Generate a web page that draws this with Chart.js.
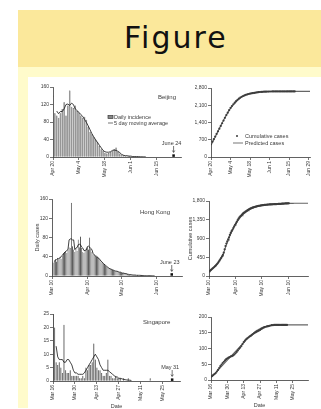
<!DOCTYPE html>
<html>
<head>
<meta charset="utf-8">
<script src="https://cdn.jsdelivr.net/npm/chart.js@4.4.0/dist/chart.umd.min.js"></script>
<style>
html, body { margin: 0; padding: 0; width: 321px; height: 409px; overflow: hidden; background: #fff; }
#hdr { position: absolute; left: 18px; top: 10px; width: 320px; height: 57px; background: #fbe89b; }
#hdr span { position: absolute; left: 106px; top: 13px; font: 30px/30px "DejaVu Sans", sans-serif; letter-spacing: 2px; color: #111; }
#box { position: absolute; left: 18px; top: 67px; width: 320px; height: 341px; background: #fffbcb; }
#fig { position: absolute; left: 28px; top: 77px; width: 300px; height: 340px; background: #fff; }
canvas { position: absolute; filter: blur(0.35px); }
</style>
</head>
<body>
<div id="hdr"><span>Figure</span></div>
<div id="box"></div>
<div id="fig"></div>
<script>
// Beijing, day 0 = Apr 20
const bjTicks = [0, 14, 28, 42, 56, 70];
const bjTickText = ['Apr 20', 'May 4', 'May 18', 'Jun 1', 'Jun 15', 'Jun 29'];
const bjDaily = [140, 100, 95, 90, 100, 110, 125, 95, 118, 152,
  115, 112, 118, 105, 102, 95, 90, 92, 85, 70,
  58, 52, 45, 40, 35, 25, 18, 15, 10, 8,
  9, 12, 14, 18, 22, 12, 8, 5, 4, 3,
  2, 3, 1, 1, 2, 1, 0, 1, 0, 0,
  1, 0, 0, 0, 0, 0, 0, 0, 0, 0];
const bjAvg = [null, null, 105, 99, 104, 104, 110, 120, 121, 118,
  123, 120, 110, 106, 102, 97, 93, 86, 79, 71,
  62, 53, 46, 39, 33, 27, 21, 15, 12, 11,
  11, 12, 15, 16, 15, 13, 10, 6, 4, 3,
  3, 2, 2, 1, 1, 1, 1, 0.5, 0.5, 0.3, 0.2];
const bjCum = [513, 620, 725, 830, 935, 1040, 1150, 1260, 1370, 1480,
  1590, 1700, 1800, 1900, 1990, 2070, 2140, 2205, 2265, 2320,
  2370, 2410, 2445, 2475, 2500, 2522, 2540, 2556, 2570, 2582,
  2592, 2602, 2612, 2622, 2630, 2637, 2642, 2646, 2649, 2652,
  2654, 2656, 2657, 2658, 2659, 2660, 2660, 2661, 2661, 2661,
  2662, 2662, 2662, 2662, 2662, 2662, 2663, 2663, 2663, 2663, 2663];
const bjPred = [480, 590, 700, 810, 925, 1040, 1155, 1270, 1385, 1495,
  1600, 1700, 1795, 1885, 1970, 2045, 2115, 2180, 2240, 2295,
  2345, 2390, 2430, 2465, 2495, 2520, 2542, 2560, 2576, 2590,
  2602, 2612, 2620, 2627, 2633, 2638, 2642, 2646, 2649, 2651,
  2653, 2655, 2656, 2657, 2658, 2659, 2659, 2660, 2660, 2660,
  2661, 2661, 2661, 2661, 2661, 2662, 2662, 2662, 2662, 2662,
  2662, 2662, 2662, 2662, 2662, 2662, 2662, 2662, 2662, 2662, 2662, 2662];

// Hong Kong, day 0 = Mar 10
const hkTicks = [0, 31, 61, 92];
const hkTickText = ['Mar 10', 'Apr 10', 'May 10', 'Jun 10'];
const hkDaily = [30, 28, 32, 35, 30, 38, 35, 40, 36, 42,
  48, 50, 52, 48, 55, 60, 58, 152, 62, 55,
  50, 56, 52, 76, 60, 82, 58, 50, 48, 52,
  57, 60, 55, 80, 56, 50, 45, 44, 42, 40,
  40, 38, 35, 30, 28, 26, 25, 22, 20, 18,
  16, 15, 14, 13, 12, 11, 10, 10, 9, 8,
  8, 7, 6, 6, 5, 5, 4, 3, 3, 3,
  2, 2, 2, 2, 1, 2, 1, 1, 2, 1,
  1, 0, 1, 1, 0, 1, 0, 1, 0, 1];
const hkAvg = [null, null, 31, 33, 34, 36, 36, 38, 40, 43,
  46, 48, 51, 53, 55, 75, 77, 77, 75, 75,
  55, 58, 59, 65, 66, 65, 60, 58, 53, 53,
  54, 61, 62, 60, 57, 55, 47, 44, 42, 41,
  39, 37, 34, 31, 29, 26, 24, 22, 20, 18,
  16, 15, 14, 13, 12, 11, 10, 10, 9, 8,
  8, 7, 6, 6, 5, 5, 4, 3.5, 3, 3,
  2.5, 2, 2, 2, 1.5, 1.5, 1.4, 1.4, 1.2, 1,
  1, 0.8, 0.8, 0.6, 0.6, 0.6, 0.5, 0.5, 0.4, 0.3, 0.2];
const hkCum = [104, 120, 140, 160, 178, 196, 216, 236, 258, 280,
  304, 335, 368, 400, 435, 470, 505, 560, 640, 720,
  780, 830, 880, 930, 985, 1035, 1075, 1110, 1150, 1190,
  1230, 1265, 1300, 1340, 1375, 1405, 1430, 1452, 1475, 1495,
  1515, 1530, 1545, 1560, 1575, 1588, 1600, 1612, 1622, 1632,
  1640, 1648, 1655, 1662, 1668, 1673, 1678, 1682, 1686, 1690,
  1694, 1697, 1700, 1703, 1706, 1708, 1710, 1712, 1714, 1716,
  1718, 1719, 1720, 1721, 1722, 1723, 1724, 1725, 1726, 1728,
  1729, 1730, 1731, 1733, 1735, 1737, 1738, 1740, 1741, 1742,
  1743, 1744, 1745];
const hkPred = [100, 118, 138, 158, 178, 198, 218, 240, 262, 285,
  310, 338, 368, 400, 434, 470, 510, 560, 625, 690,
  750, 805, 858, 910, 960, 1008, 1054, 1098, 1140, 1180,
  1218, 1254, 1288, 1320, 1350, 1378, 1404, 1428, 1450, 1470,
  1489, 1507, 1524, 1540, 1555, 1569, 1582, 1594, 1605, 1615,
  1625, 1634, 1643, 1651, 1658, 1665, 1671, 1677, 1682, 1687,
  1691, 1695, 1699, 1702, 1705, 1708, 1711, 1713, 1715, 1717,
  1719, 1721, 1722, 1724, 1725, 1726, 1727, 1728, 1729, 1730,
  1731, 1732, 1733, 1734, 1735, 1736, 1737, 1738, 1739, 1740,
  1741, 1741, 1742, 1742, 1743, 1743, 1744, 1744, 1745, 1745,
  1745, 1745, 1745, 1745, 1745, 1745, 1745, 1745, 1745, 1745,
  1745, 1745, 1745, 1745, 1745];

// Singapore, day 0 = Mar 16
const sgTicks = [0, 14, 28, 42, 56, 70];
const sgTickText = ['Mar 16', 'Mar 30', 'Apr 13', 'Apr 27', 'May 11', 'May 25'];
const sgDaily = [25, 20, 7, 6, 7, 5, 3, 21, 4, 3,
  3, 4, 2, 2, 2, 2, 2, 1, 1, 2,
  1, 5, 4, 6, 6, 7, 14, 8, 5, 4,
  4, 3, 2, 2, 3, 8, 2, 2, 1, 1,
  2, 1, 1, 1, 0, 1, 0, 0, 1, 0,
  0, 0, 0, 0, 0, 0, 0, 0, 0, 0, 0, 0, 1];
const sgAvg = [null, null, 13, 9, 8, 8, 8, 7, 7, 8,
  8, 7, 6, 4, 3, 3, 2.5, 2.5, 2.5, 2.5,
  3, 4, 5, 6, 7, 8, 9, 10, 9, 8,
  6, 5, 4, 4, 4, 4, 3.5, 3, 2.5, 2,
  1.5, 1.5, 1, 1, 0.8, 0.6, 0.5, 0.4, 0.3, 0.3, 0.2];
const sgCum = [10, 13, 16, 19, 22, 27, 32, 38, 44, 49,
  54, 58, 62, 66, 69, 71, 73, 75, 76, 78,
  81, 85, 89, 94, 99, 103, 108, 114, 120, 125,
  129, 132, 135, 138, 140, 143, 146, 149, 151, 153,
  155, 157, 159, 162, 164, 166, 168, 169, 170, 171,
  172, 173, 174, 174, 175, 175, 175, 175, 175, 175,
  175, 175, 175, 175, 175, 175];
const sgPred = [8, 11, 15, 19, 23, 27, 31, 35, 39, 43,
  47, 51, 55, 59, 63, 67, 71, 75, 79, 83,
  87, 91, 95, 99, 103, 107, 111, 115, 119, 123,
  127, 131, 135, 139, 142, 145, 148, 151, 154, 157,
  159, 161, 163, 165, 167, 168, 169, 170, 171, 172,
  173, 173, 174, 174, 174, 175, 175, 175, 175, 175,
  175, 175, 175, 175, 175, 175, 175, 175, 175, 175,
  175, 175, 175, 175, 175, 175, 175, 175, 175, 175, 175, 175, 175, 175];

const FONT = '"Liberation Sans", Arial, sans-serif';
const INK = '#3a3a3a';
const PAD_T = 5, PAD_R = 6;

const pts = arr => arr.map((v, i) => ({ x: i, y: v }));

const extraText = {
  id: 'extraText',
  afterDatasetsDraw(chart, args, o) {
    const { ctx, chartArea: a, scales } = chart;
    ctx.save();
    ctx.fillStyle = INK;
    ctx.strokeStyle = INK;
    ctx.lineWidth = 0.7;
    ctx.textBaseline = 'middle';
    ctx.textAlign = 'left';
    if (o.name) {
      ctx.font = '6px ' + FONT;
      ctx.fillText(o.name, a.left + o.nameAt[0], a.top + o.nameAt[1]);
    }
    ctx.font = '5.5px ' + FONT;
    (o.legend || []).forEach(it => {
      const x = a.left + it.sx, y = a.top + it.dy;
      if (it.kind === 'bar') {
        ctx.fillStyle = '#888';
        ctx.fillRect(x, y - 1.5, 5, 3);
        ctx.strokeRect(x, y - 1.5, 5, 3);
        ctx.fillStyle = INK;
      } else if (it.kind === 'line') {
        ctx.beginPath(); ctx.moveTo(x, y); ctx.lineTo(x + it.len, y); ctx.stroke();
      } else {
        ctx.beginPath(); ctx.arc(x, y, 1, 0, Math.PI * 2); ctx.fill();
      }
      ctx.fillText(it.text, a.left + it.tx, y);
    });
    if (o.note) {
      const x = scales.x.getPixelForValue(o.note.day);
      const y0 = scales.y.getPixelForValue(0);
      ctx.textAlign = 'center';
      ctx.fillText(o.note.text, x - 2, y0 - 14);
      ctx.beginPath(); ctx.moveTo(x, y0 - 11); ctx.lineTo(x, y0 - 5); ctx.stroke();
      ctx.beginPath(); ctx.moveTo(x - 1.2, y0 - 6.5); ctx.lineTo(x, y0 - 4.5); ctx.lineTo(x + 1.2, y0 - 6.5); ctx.stroke();
    }
    ctx.restore();
  }
};

function dailySets(daily, avg, note, yMax, color) {
  return [
    { type: 'line', data: pts(avg), borderColor: '#111', borderWidth: 0.8, pointRadius: 0, order: 0 },
    { type: 'line', showLine: false, data: [{ x: note.day, y: yMax * 0.02 }], pointStyle: 'rect',
      pointRadius: 1.8, backgroundColor: '#111', borderWidth: 0, order: 0 },
    { type: 'bar', data: pts(daily), backgroundColor: color, borderColor: '#2e2e2e', borderWidth: 0.4,
      barPercentage: 1, categoryPercentage: 0.85, order: 1 }
  ];
}

function cumSets(cum, pred) {
  return [
    { data: pts(cum), showLine: false, pointRadius: 1.1, pointBackgroundColor: '#3c3c3c', pointBorderWidth: 0 },
    { data: pts(pred), borderColor: '#666', borderWidth: 1.1, pointRadius: 0 }
  ];
}

function addPanel(p) {
  const wy = p.yTitle ? p.wy : 16;
  const hx = p.xTitle ? 29 : 22;
  const w = p.r - p.l + wy + PAD_R, h = p.b - p.t + PAD_T + hx;
  const c = document.createElement('canvas');
  c.width = w; c.height = h;
  c.style.left = (p.l - wy) + 'px';
  c.style.top = (p.t - PAD_T) + 'px';
  c.style.width = w + 'px';
  c.style.height = h + 'px';
  document.body.appendChild(c);
  new Chart(c, {
    type: p.bars ? 'bar' : 'line',
    data: { datasets: p.datasets },
    plugins: [extraText],
    options: {
      responsive: false,
      animation: false,
      events: [],
      layout: { padding: { top: PAD_T, right: PAD_R, left: 0, bottom: 0 } },
      plugins: { legend: { display: false }, tooltip: { enabled: false }, extraText: p.extra },
      scales: {
        x: {
          type: 'linear', min: 0, max: p.xMax, offset: false,
          afterFit: s => { s.height = hx; },
          afterBuildTicks: s => { s.ticks = p.ticks.filter(v => v <= p.xMax).map(v => ({ value: v })); },
          ticks: {
            autoSkip: false, minRotation: 90, maxRotation: 90, padding: 1,
            font: { size: 5, family: FONT }, color: INK,
            callback: v => p.tickText[p.ticks.indexOf(v)]
          },
          grid: { drawOnChartArea: false, tickLength: 3, color: INK, lineWidth: 0.7, offset: false },
          border: { color: INK, width: 0.8 },
          title: { display: !!p.xTitle, text: p.xTitle, font: { size: 5.5, family: FONT }, color: INK, padding: 0 }
        },
        y: {
          min: 0, max: p.yMax,
          afterFit: s => { s.width = wy; },
          ticks: { stepSize: p.yStep, padding: 1, font: { size: 5, family: FONT }, color: INK },
          grid: { drawOnChartArea: false, tickLength: 3, color: INK, lineWidth: 0.7 },
          border: { color: INK, width: 0.8 },
          title: { display: !!p.yTitle, text: p.yTitle, font: { size: 5.5, family: FONT }, color: INK, padding: 0 }
        }
      }
    }
  });
}

const bjNote = { day: 65, text: 'June 24' };
const hkNote = { day: 105, text: 'June 23' };
const sgNote = { day: 76, text: 'May 31' };

addPanel({ l: 53, t: 87, r: 181, b: 157, xMax: 69, yMax: 160, yStep: 40, bars: true,
  ticks: bjTicks, tickText: bjTickText,
  datasets: dailySets(bjDaily, bjAvg, bjNote, 160, '#858585'),
  extra: { name: 'Beijing', nameAt: [105, 10], note: bjNote,
    legend: [{ kind: 'bar', text: 'Daily incidence', sx: 55, tx: 61, dy: 30 },
             { kind: 'line', text: '5 day moving average', sx: 55, len: 5, tx: 61, dy: 36 }] } });

addPanel({ l: 211, t: 88, r: 310, b: 157, xMax: 71, yMax: 2800, yStep: 700,
  ticks: bjTicks, tickText: bjTickText,
  datasets: cumSets(bjCum, bjPred),
  extra: { legend: [{ kind: 'dot', text: 'Cumulative cases', sx: 26, tx: 34, dy: 48 },
                    { kind: 'line', text: 'Predicted cases', sx: 22, len: 10, tx: 34, dy: 55 }] } });

addPanel({ l: 52, t: 199, r: 182, b: 276, xMax: 114, yMax: 160, yStep: 40, bars: true,
  ticks: hkTicks, tickText: hkTickText, yTitle: 'Daily cases', wy: 18,
  datasets: dailySets(hkDaily, hkAvg, hkNote, 160, '#5a5a5a'),
  extra: { name: 'Hong Kong', nameAt: [88, 13], note: hkNote } });

addPanel({ l: 209, t: 201, r: 308, b: 276, xMax: 114, yMax: 1800, yStep: 450,
  ticks: hkTicks, tickText: hkTickText, yTitle: 'Cumulative cases', wy: 22,
  datasets: cumSets(hkCum, hkPred), extra: {} });

addPanel({ l: 53, t: 314, r: 180, b: 381, xMax: 81, yMax: 25, yStep: 5, bars: true,
  ticks: sgTicks, tickText: sgTickText, xTitle: 'Date',
  datasets: dailySets(sgDaily, sgAvg, sgNote, 25, '#5a5a5a'),
  extra: { name: 'Singapore', nameAt: [90, 8], note: sgNote } });

addPanel({ l: 211, t: 317, r: 308, b: 380, xMax: 83, yMax: 200, yStep: 50,
  ticks: sgTicks, tickText: sgTickText, xTitle: 'Date',
  datasets: cumSets(sgCum, sgPred), extra: {} });
</script>
</body>
</html>
